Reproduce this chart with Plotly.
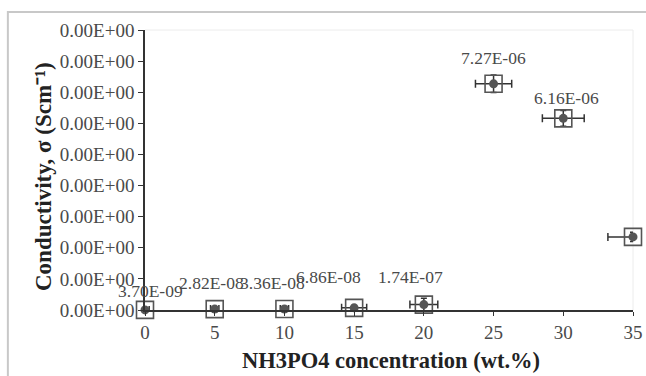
import plotly.graph_objects as go

conc = [0, 5, 10, 15, 20, 25, 30, 35]
sigma = [3.70e-09, 2.82e-08, 3.36e-08, 6.86e-08, 1.74e-07, 7.27e-06, 6.16e-06, 2.35e-06]
x_err = [0.3, 0.3, 0.3, 0.9, 1.0, 1.3, 1.5, 1.8]
y_err = [0.05e-6, 0.05e-6, 0.05e-6, 0.08e-6, 0.2e-6, 0.28e-6, 0.25e-6, 0.15e-6]
point_labels = ["3.70E-09", "2.82E-08", "3.36E-08", "6.86E-08", "1.74E-07", "7.27E-06", "6.16E-06", ""]
label_shift_x = [5, -3, -12, -26, -13, 0, 3, 0]
label_shift_y = [19, 26, 26, 31, 28, 26, 20, 0]
y_tickvals = [i * 1e-6 for i in range(10)]
y_ticktext = ["0.00E+00"] * 10
x_tickvals = [0, 5, 10, 15, 20, 25, 30, 35]

FONT = "Liberation Serif"
TXT = "#4a4a4a"
DARK = "#333333"

fig = go.Figure()
fig.add_trace(go.Scatter(
    x=conc, y=sigma, mode="markers",
    marker=dict(symbol="square-open", size=17, color="#555555", line=dict(width=1.6, color="#555555")),
    error_x=dict(type="data", array=x_err, color=DARK, thickness=1.5, width=4),
    error_y=dict(type="data", array=y_err, color=DARK, thickness=1.5, width=3),
    showlegend=False, cliponaxis=False,
))
fig.add_trace(go.Scatter(
    x=conc, y=sigma, mode="markers",
    marker=dict(symbol="circle", size=9, color="#555555"),
    showlegend=False, cliponaxis=False,
))

for xv, yv, t, dx, dy in zip(conc, sigma, point_labels, label_shift_x, label_shift_y):
    if t:
        fig.add_annotation(x=xv, y=yv, text=t, showarrow=False, xshift=dx, yshift=dy,
                           xanchor="center", yanchor="middle",
                           font=dict(family=FONT, size=17.5, color=TXT))

fig.add_annotation(x=-0.209, y=0.475, xref="paper", yref="paper",
                   text="<b>Conductivity, σ (Scm⁻¹)</b>", xanchor="center", yanchor="middle",
                   textangle=-90, showarrow=False, font=dict(family=FONT, size=23, color="#222222"))
fig.add_annotation(x=0.504, y=-0.182, xref="paper", yref="paper",
                   text="<b>NH3PO4 concentration (wt.%)</b>", xanchor="center", yanchor="middle",
                   showarrow=False, font=dict(family=FONT, size=22.5, color="#222222"))

# outer light frame
fig.add_shape(type="rect", xref="paper", yref="paper", x0=-0.281, x1=1.04, y0=-0.3, y1=1.064,
              line=dict(color="#c8c8c8", width=2), layer="below")
# faint plot box top/right
fig.add_shape(type="line", xref="paper", yref="paper", x0=0, x1=1, y0=1, y1=1,
              line=dict(color="#ececec", width=1), layer="below")
fig.add_shape(type="line", xref="paper", yref="paper", x0=1, x1=1, y0=0, y1=1,
              line=dict(color="#ececec", width=1), layer="below")

fig.update_layout(
    width=646, height=376,
    margin=dict(l=145, r=13, t=30, b=66, autoexpand=False),
    paper_bgcolor="white", plot_bgcolor="white",
    font=dict(family=FONT, color=TXT),
)
fig.update_xaxes(range=[0, 35], tickvals=x_tickvals, showgrid=False, zeroline=False, automargin=False,
                 showline=True, linecolor=DARK, linewidth=1.5, ticks="outside", ticklen=4,
                 tickcolor=DARK, tickfont=dict(family=FONT, size=19, color=TXT))
fig.update_yaxes(range=[0, 9e-6], tickvals=y_tickvals, ticktext=y_ticktext, showgrid=False, automargin=False,
                 zeroline=False, showline=True, linecolor=DARK, linewidth=1.5, ticks="outside",
                 ticklen=5, tickcolor=DARK, tickfont=dict(family=FONT, size=19, color=TXT))

fig.write_html("out.html")
